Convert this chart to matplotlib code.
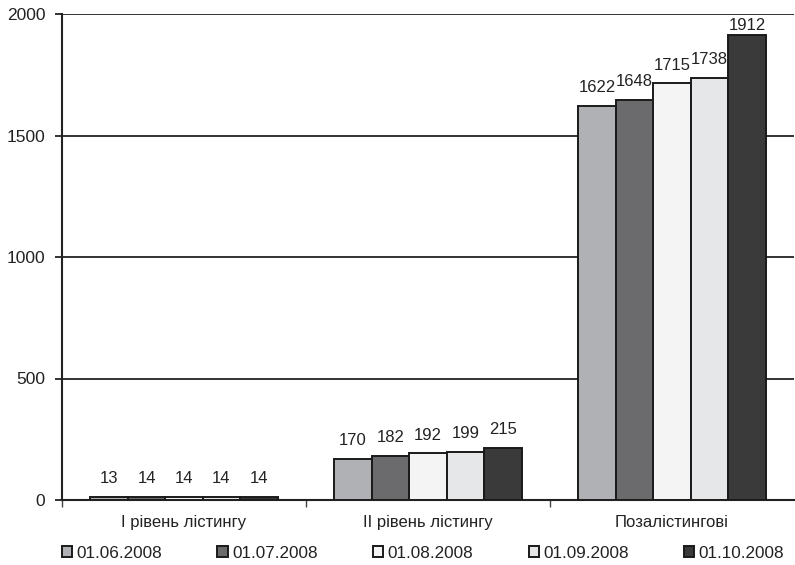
import matplotlib
matplotlib.use("Agg")
import matplotlib.pyplot as plt
import numpy as np

plt.rcParams['font.family'] = ['Liberation Sans', 'DejaVu Sans']

categories = ["I рівень лістингу", "II рівень лістингу", "Позалістингові"]
dates = ["01.06.2008", "01.07.2008", "01.08.2008", "01.09.2008", "01.10.2008"]
values = [
    [13, 170, 1622],
    [14, 182, 1648],
    [14, 192, 1715],
    [14, 199, 1738],
    [14, 215, 1912],
]
colors = ["#b0b1b5", "#6b6b6d", "#f4f4f4", "#e6e7e9", "#3a3a3a"]
yticks = [0, 500, 1000, 1500, 2000]
ymax = 2000

fig = plt.figure(figsize=(7.95, 5.65), dpi=100)
ax_h_px = 486
ax = fig.add_axes([62 / 795, 1 - 500 / 565, 732 / 795, ax_h_px / 565])

# data units per pixel, used to keep value labels inside the plot area
per_px = ymax / ax_h_px
label_gap = 18 * per_px
label_cap = ymax - 11 * per_px

x = np.arange(len(categories))
bw = 0.1535
handles = []
for i, (d, vals, c) in enumerate(zip(dates, values, colors)):
    pos = x + (i - 2) * bw
    bars = ax.bar(pos, vals, width=bw, color=c, edgecolor="#1a1a1a",
                  linewidth=1.4, label=d, zorder=3)
    handles.append(bars)
    for p, v in zip(pos, vals):
        ax.text(p, min(v + label_gap, label_cap), str(v),
                ha="center", va="center", fontsize=12, color="#222222", zorder=4)

ax.set_xlim(-0.5, 2.5)
ax.set_ylim(0, ymax)
ax.set_yticks(yticks)
ax.set_yticklabels([str(t) for t in yticks], fontsize=12.5, color="#222222")
ax.yaxis.grid(True, color="#222222", linewidth=1.3, zorder=0)
ax.set_axisbelow(True)

ax.set_xticks(x)
ax.set_xticklabels(categories, fontsize=12, color="#222222")
ax.tick_params(axis="x", length=0, pad=11)
ax.set_xticks([-0.5, 0.5, 1.5], minor=True)
ax.tick_params(axis="x", which="minor", length=5, width=1, color="#444444")
ax.tick_params(axis="y", length=5, width=1.3, color="#222222", pad=7)

for s in ["top", "right"]:
    ax.spines[s].set_visible(False)
ax.spines["left"].set_linewidth(1.5)
ax.spines["bottom"].set_linewidth(1.5)
ax.spines["left"].set_color("#222222")
ax.spines["bottom"].set_color("#222222")

leg = fig.legend(handles=handles, labels=dates, loc="center left",
                 bbox_to_anchor=(55 / 795, 1 - 553 / 565), ncol=5, frameon=False,
                 fontsize=12.3, handlelength=0.6, handleheight=0.6,
                 handletextpad=0.25, columnspacing=3.24, borderaxespad=0)
for t in leg.get_texts():
    t.set_color("#222222")

fig.savefig("out.png", dpi=100)
